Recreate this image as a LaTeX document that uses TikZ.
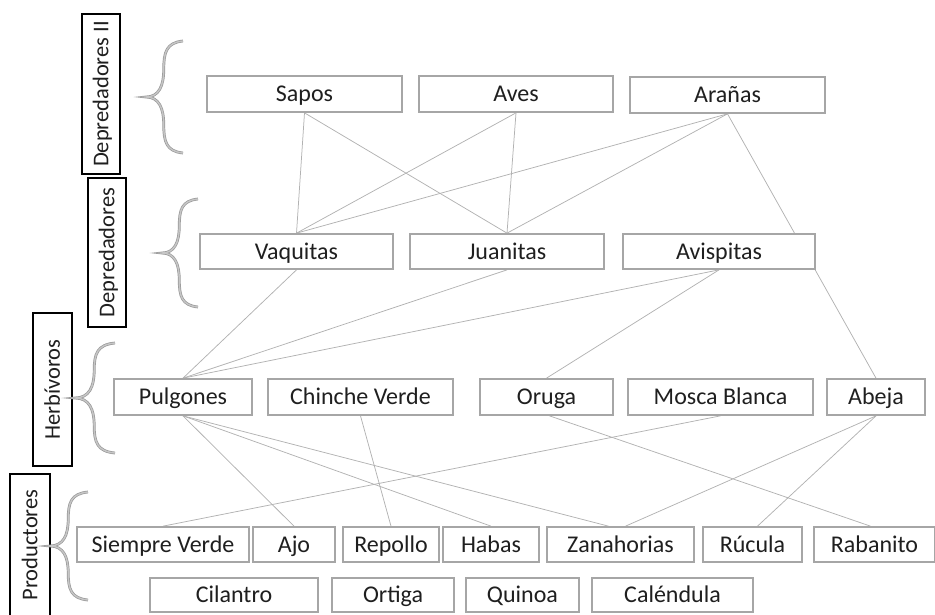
\documentclass[tikz,border=0pt]{standalone}
\usepackage{fontspec}
\setmainfont{Carlito}
\usetikzlibrary{backgrounds}
\tikzset{
  sp/.style={draw=gray!70, line width=1.7pt, fill=white, inner sep=0pt,
    font=\fontsize{24}{28}\selectfont, text=black!88, text height=15.4pt, text depth=0pt},
  lvl/.style={draw=black, line width=1.9pt, fill=white, inner sep=0pt, rotate=90,
    font=\fontsize{22.5}{26}\selectfont, text=black!88, text height=14.5pt, text depth=0pt},
  link/.style={draw=gray!60, line width=0.75pt},
  brc/.style={draw=gray!80, line width=0.7pt, double=gray!45, double distance=1.4pt},
}
\newcommand\curlyb[4]{\draw[brc, shift={(#1,#2)}, xscale=#3, yscale=#4]
  (1,-1) .. controls (0.55,-0.97) and (0.48,-0.8) .. (0.48,-0.5)
  .. controls (0.48,-0.2) and (0.35,0) .. (0,0)
  .. controls (0.35,0) and (0.48,0.2) .. (0.48,0.5)
  .. controls (0.48,0.8) and (0.55,0.97) .. (1,1);}
\begin{document}
\begin{tikzpicture}[x=1pt,y=-1pt]
\useasboundingbox (0,0) rectangle (935,614);
% level labels
\node[lvl, minimum width=160pt, minimum height=38pt] (ldep2) at (101,94) {Depredadores II};
\node[lvl, minimum width=149pt, minimum height=38pt] (ldep) at (107,252.5) {Depredadores};
\node[lvl, minimum width=153pt, minimum height=39pt] (lherb) at (52.5,389.5) {Herbívoros};
\node[lvl, minimum width=142pt, minimum height=40pt] (lprod) at (30,545) {Productores};
% braces
\curlyb{146}{97}{37}{56}
\curlyb{162}{253}{36}{54}
\curlyb{75}{398}{40}{55}
\curlyb{50}{546}{38}{54}
% row 1
\node[sp, minimum width=195pt, minimum height=36pt] (sapos) at (304.5,94) {Sapos};
\node[sp, minimum width=194pt, minimum height=36pt] (aves) at (516,94) {Aves};
\node[sp, minimum width=195pt, minimum height=36pt] (aran) at (727.5,95) {Arañas};
% row 2
\node[sp, minimum width=193pt, minimum height=35pt] (vaq) at (296.5,251.5) {Vaquitas};
\node[sp, minimum width=194pt, minimum height=35pt] (juan) at (507,251.5) {Juanitas};
\node[sp, minimum width=192pt, minimum height=35pt] (avis) at (719,251.5) {Avispitas};
% row 3
\node[sp, minimum width=138pt, minimum height=36pt] (pul) at (183,397) {Pulgones};
\node[sp, minimum width=185pt, minimum height=36pt] (cv) at (360.5,397) {Chinche Verde};
\node[sp, minimum width=133pt, minimum height=36pt] (oruga) at (546.5,397) {Oruga};
\node[sp, minimum width=185pt, minimum height=36pt] (mosca) at (720.5,397) {Mosca Blanca};
\node[sp, minimum width=98pt, minimum height=36pt] (abeja) at (876,397) {Abeja};
% row 4
\node[sp, minimum width=172pt, minimum height=35pt] (siempre) at (163,544.5) {Siempre Verde};
\node[sp, minimum width=82pt, minimum height=35pt] (ajo) at (294,544.5) {Ajo};
\node[sp, minimum width=96pt, minimum height=35pt] (repollo) at (391,544.5) {Repollo};
\node[sp, minimum width=96pt, minimum height=35pt] (habas) at (491,544.5) {Habas};
\node[sp, minimum width=147pt, minimum height=35pt] (zan) at (620.5,544.5) {Zanahorias};
\node[sp, minimum width=99pt, minimum height=35pt] (rucula) at (752.5,544.5) {Rúcula};
\node[sp, minimum width=121pt, minimum height=35pt] (rabanito) at (874.5,544.5) {Rabanito};
% row 5
\node[sp, minimum width=168pt, minimum height=34pt] (cilantro) at (234,595) {Cilantro};
\node[sp, minimum width=122pt, minimum height=34pt] (ortiga) at (393,595) {Ortiga};
\node[sp, minimum width=113pt, minimum height=34pt] (quinoa) at (522.5,595) {Quinoa};
\node[sp, minimum width=161pt, minimum height=34pt] (calendula) at (672.5,595) {Caléndula};
% connectors
\begin{scope}[on background layer]
\draw[link] (sapos.south) -- (vaq.north);
\draw[link] (sapos.south) -- (juan.north);
\draw[link] (aves.south) -- (vaq.north);
\draw[link] (aves.south) -- (juan.north);
\draw[link] (aran.south) -- (vaq.north);
\draw[link] (aran.south) -- (juan.north);
\draw[link] (aran.south) -- (abeja.north);
\draw[link] (vaq.south) -- (pul.north);
\draw[link] (juan.south) -- (pul.north);
\draw[link] (avis.south) -- (pul.north);
\draw[link] (avis.south) -- (oruga.north);
\draw[link] (pul.south) -- (ajo.north);
\draw[link] (pul.south) -- (habas.north);
\draw[link] (pul.south) -- ([xshift=-12pt]zan.north);
\draw[link] (cv.south) -- (repollo.north);
\draw[link] ([xshift=3pt]oruga.south) -- ([xshift=-4pt]rabanito.north);
\draw[link] (mosca.south) -- (siempre.north);
\draw[link] (abeja.south) -- ([xshift=5pt]zan.north);
\draw[link] (abeja.south) -- ([xshift=5pt]rucula.north);
\end{scope}
\end{tikzpicture}
\end{document}
